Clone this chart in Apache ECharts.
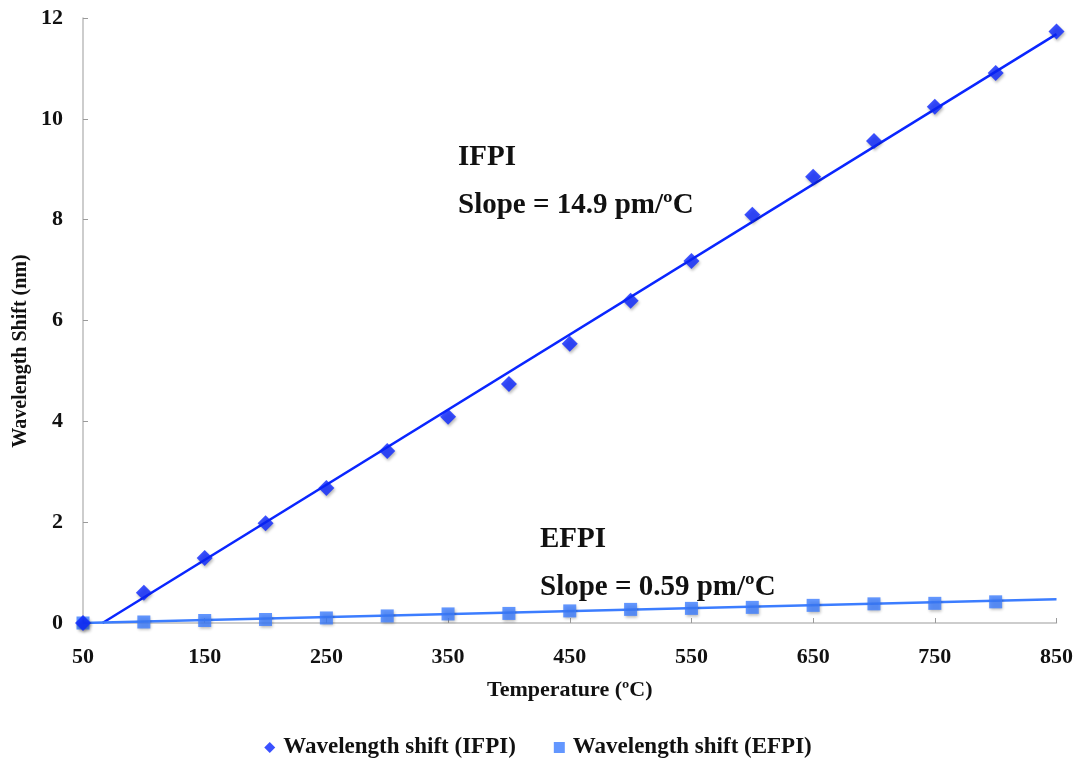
<!DOCTYPE html>
<html>
<head>
<meta charset="utf-8">
<title>Wavelength shift vs temperature</title>
<script src="https://cdn.jsdelivr.net/npm/echarts@6/dist/echarts.min.js"></script>
<style>
  html, body { margin: 0; padding: 0; background: #ffffff; }
  #chart { width: 1076px; height: 761px; }
</style>
</head>
<body>
<div id="chart"></div>
<script>
// Temperature steps (ºC)
const temperatures = [50, 100, 150, 200, 250, 300, 350, 400, 450, 500, 550, 600, 650, 700, 750, 800, 850];

// Measured wavelength shift (nm) for the intrinsic interferometer
const ifpiShift = [0, 0.60, 1.29, 1.98, 2.68, 3.41, 4.09, 4.74, 5.54, 6.39, 7.18, 8.10, 8.85, 9.56, 10.24, 10.91, 11.73];

// Measured wavelength shift (nm) for the extrinsic interferometer (no reading at 850)
const efpiShift = [0, 0.02, 0.05, 0.07, 0.10, 0.14, 0.18, 0.19, 0.24, 0.27, 0.29, 0.31, 0.35, 0.38, 0.39, 0.42];

// Linear fit end points
const ifpiFitX = [66, 850];
const ifpiFitY = [0, 11.68];
const efpiFitX = [50, 850];
const efpiFitY = [0, 0.47];

const xTicks = { min: 50, max: 850, step: 100 };
const yTicks = { min: 0, max: 12, step: 2 };

const IFPI_COLOR = '#0a26ff';
const EFPI_COLOR = '#3c7dff';
const SERIF = '"Liberation Serif", "DejaVu Serif", serif';

const pairs = (xs, ys) => ys.map((y, i) => [xs[i], y]);

const markerShadow = {
  shadowBlur: 3,
  shadowColor: 'rgba(0,0,0,0.35)',
  shadowOffsetX: 1,
  shadowOffsetY: 2
};

const chart = echarts.init(document.getElementById('chart'), null, { renderer: 'canvas' });

chart.setOption({
  backgroundColor: '#ffffff',
  animation: false,
  grid: { left: 83, right: 19, top: 18, bottom: 138, containLabel: false },
  xAxis: {
    type: 'value',
    min: xTicks.min,
    max: xTicks.max,
    interval: xTicks.step,
    name: 'Temperature (ºC)',
    nameLocation: 'middle',
    nameGap: 56,
    nameTextStyle: { fontFamily: SERIF, fontWeight: 'bold', fontSize: 22, color: '#111' },
    axisLine: { show: true, lineStyle: { color: '#bdbdbd', width: 1.5 } },
    axisTick: { show: true, inside: true, length: 5, lineStyle: { color: '#9a9a9a' } },
    axisLabel: { margin: 23, fontFamily: SERIF, fontWeight: 'bold', fontSize: 22, color: '#111' },
    splitLine: { show: false }
  },
  yAxis: {
    type: 'value',
    min: yTicks.min,
    max: yTicks.max,
    interval: yTicks.step,
    axisLine: { show: true, lineStyle: { color: '#bdbdbd', width: 1.5 } },
    axisTick: { show: true, inside: true, length: 5, lineStyle: { color: '#9a9a9a' } },
    axisLabel: { margin: 20, fontFamily: SERIF, fontWeight: 'bold', fontSize: 22, color: '#111' },
    splitLine: { show: false }
  },
  legend: {
    bottom: 2,
    left: 'center',
    padding: 0,
    itemGap: 38,
    itemWidth: 11,
    itemHeight: 11,
    textStyle: { fontFamily: SERIF, fontWeight: 'bold', fontSize: 23, color: '#111', padding: [0, 0, 0, 3] },
    data: [
      { name: 'Wavelength shift (IFPI)', icon: 'diamond' },
      { name: 'Wavelength shift (EFPI)', icon: 'rect' }
    ]
  },
  series: [
    {
      name: 'IFPI fit',
      type: 'line',
      data: pairs(ifpiFitX, ifpiFitY),
      symbol: 'none',
      lineStyle: { color: IFPI_COLOR, width: 2.5 },
      z: 2,
      silent: true
    },
    {
      name: 'EFPI fit',
      type: 'line',
      data: pairs(efpiFitX, efpiFitY),
      symbol: 'none',
      lineStyle: { color: EFPI_COLOR, width: 2.5 },
      z: 2,
      silent: true
    },
    {
      name: 'Wavelength shift (EFPI)',
      type: 'scatter',
      data: pairs(temperatures, efpiShift),
      symbol: 'rect',
      symbolSize: 13,
      itemStyle: Object.assign({ color: EFPI_COLOR }, markerShadow),
      z: 3
    },
    {
      name: 'Wavelength shift (IFPI)',
      type: 'scatter',
      data: pairs(temperatures, ifpiShift),
      symbol: 'diamond',
      symbolSize: 16,
      itemStyle: Object.assign({ color: IFPI_COLOR }, markerShadow),
      z: 4
    }
  ],
  graphic: [
    {
      // vertical axis title, reading bottom to top
      type: 'text', x: 21, y: 351, rotation: Math.PI / 2,
      style: {
        text: 'Wavelength Shift (nm)', font: 'bold 20px ' + SERIF, fill: '#111',
        align: 'center', verticalAlign: 'middle'
      }
    },
    {
      type: 'text', left: 458, top: 143,
      style: { text: 'IFPI', font: 'bold 29px ' + SERIF, fill: '#111' }
    },
    {
      type: 'text', left: 458, top: 191,
      style: { text: 'Slope = 14.9 pm/ºC', font: 'bold 29px ' + SERIF, fill: '#111' }
    },
    {
      type: 'text', left: 540, top: 525,
      style: { text: 'EFPI', font: 'bold 29px ' + SERIF, fill: '#111' }
    },
    {
      type: 'text', left: 540, top: 573,
      style: { text: 'Slope = 0.59 pm/ºC', font: 'bold 29px ' + SERIF, fill: '#111' }
    }
  ]
});
</script>
</body>
</html>
